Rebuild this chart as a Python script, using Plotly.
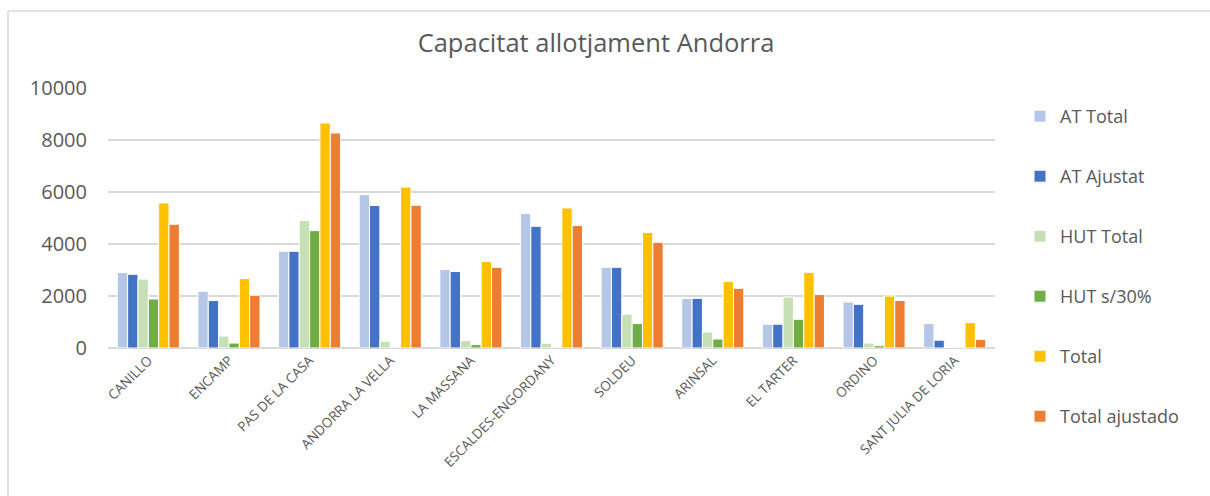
import plotly.graph_objects as go

categories = ["CANILLO", "ENCAMP", "PAS DE LA CASA", "ANDORRA LA VELLA", "LA MASSANA",
              "ESCALDES-ENGORDANY", "SOLDEU", "ARINSAL", "EL TARTER", "ORDINO",
              "SANT JULIA DE LORIA"]
at_total = [2900, 2180, 3720, 5900, 3015, 5170, 3105, 1910, 915, 1770, 940]
at_ajustat = [2835, 1825, 3720, 5480, 2940, 4680, 3105, 1910, 915, 1680, 300]
hut_total = [2650, 460, 4900, 260, 285, 180, 1300, 615, 1960, 190, 15]
hut_s30 = [1885, 190, 4515, 0, 130, 0, 940, 345, 1105, 90, 0]
total = [5580, 2670, 8655, 6190, 3325, 5385, 4440, 2555, 2910, 2000, 975]
total_ajustado = [4760, 2030, 8270, 5490, 3105, 4710, 4065, 2295, 2055, 1825, 335]

series_names = ["AT Total", "AT Ajustat", "HUT Total", "HUT s/30%", "Total", "Total ajustado"]
series_values = [at_total, at_ajustat, hut_total, hut_s30, total, total_ajustado]
colors = ["#B4C7E7", "#4472C4", "#C5E0B4", "#70AD47", "#FFC000", "#ED7D31"]

fig = go.Figure()
for i, (name, vals, col) in enumerate(zip(series_names, series_values, colors)):
    fig.add_trace(go.Bar(
        x=categories, y=vals, name=name, legendgroup=name,
        marker=dict(color=col, line=dict(color="white", width=1)),
    ))

L, R, T, B = 108, 215, 88, 148
W, H = 1210, 496
pw, ph = W - L - R, H - T - B

fig.update_layout(
    width=W, height=H,
    margin=dict(l=L, r=R, t=T, b=B, autoexpand=False),
    paper_bgcolor="white", plot_bgcolor="white",
    barmode="group", bargap=0.23, bargroupgap=0,
    font=dict(family="Open Sans", color="#595959"),
    title=dict(text="Capacitat allotjament Andorra", x=596 / W, xanchor="center",
               y=1 - 43 / H, yanchor="middle", xref="container", yref="container",
               font=dict(size=25.5, color="#595959", family="Open Sans")),
    legend=dict(x=(1020 - L) / pw, xanchor="left", yref="container",
                y=1 - 98 / H, yanchor="top", maxheight=1,
                font=dict(size=18, color="#595959"), tracegroupgap=33.6,
                traceorder="grouped", itemwidth=30),
    showlegend=True,
)
fig.update_yaxes(range=[0, 10000], dtick=2000, tickformat="d", showgrid=True,
                 gridcolor="#D9D9D9", gridwidth=1.5, zeroline=True,
                 zerolinecolor="#D9D9D9", zerolinewidth=1.5,
                 tickfont=dict(size=20, color="#595959"), ticks="outside", ticklen=16,
                 tickcolor="rgba(0,0,0,0)", showline=False)
fig.update_xaxes(tickangle=-45, tickfont=dict(size=13.5, color="#595959"),
                 showline=False, ticks="", ticklabelstandoff=1)

# chart frame (top and left edges)
x0 = (8 - L) / pw
x1 = (W + 5 - L) / pw
y0 = 1 + (T - 11) / ph
y1 = -(B + 5) / ph
fig.add_shape(type="line", xref="paper", yref="paper", x0=x0, x1=x1, y0=y0, y1=y0,
              line=dict(color="#D9D9D9", width=1.5))
fig.add_shape(type="line", xref="paper", yref="paper", x0=x0, x1=x0, y0=y0, y1=y1,
              line=dict(color="#D9D9D9", width=1.5))

fig.write_html("out.html", config={"displayModeBar": False},
               post_script="document.body.style.margin='0';")
